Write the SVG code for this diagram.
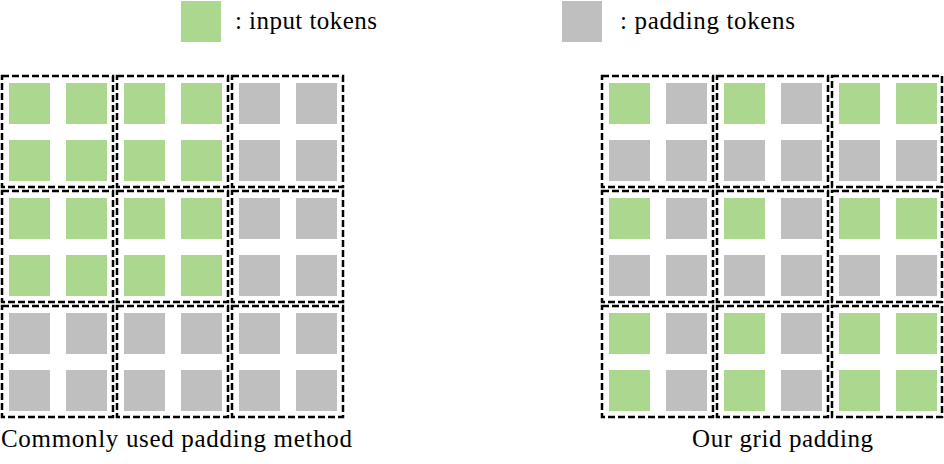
<svg xmlns="http://www.w3.org/2000/svg" width="944" height="464" viewBox="0 0 944 464">
<style>
.g{fill:#acd78e}
.p{fill:#bfbfbf}
.box{fill:none;stroke:#000;stroke-width:2.5;stroke-dasharray:7 3}
text{font-family:"Liberation Serif","Times New Roman","DejaVu Serif",serif;font-size:25px;fill:#000}
</style>
<defs>
<rect id="sq" width="41" height="41"/>
</defs>
<rect width="944" height="464" fill="#fff"/>
<g id="legend-input">
<rect class="g" x="181" y="1" width="40" height="41"/>
<text x="235" y="29" textLength="142" lengthAdjust="spacing">: input tokens</text>
</g>
<g id="legend-padding">
<rect class="p" x="562" y="1" width="40" height="41"/>
<text x="620" y="29" textLength="175" lengthAdjust="spacing">: padding tokens</text>
</g>
<g id="left-grid">
<g id="L11"><use href="#sq" class="g" x="9" y="83"/><use href="#sq" class="g" x="66" y="83"/><use href="#sq" class="g" x="9" y="140"/><use href="#sq" class="g" x="66" y="140"/><rect class="box" x="2" y="76" width="111" height="111"/></g>
<g id="L12"><use href="#sq" class="g" x="124" y="83"/><use href="#sq" class="g" x="181" y="83"/><use href="#sq" class="g" x="124" y="140"/><use href="#sq" class="g" x="181" y="140"/><rect class="box" x="117" y="76" width="111" height="111"/></g>
<g id="L13"><use href="#sq" class="p" x="239" y="83"/><use href="#sq" class="p" x="296" y="83"/><use href="#sq" class="p" x="239" y="140"/><use href="#sq" class="p" x="296" y="140"/><rect class="box" x="232" y="76" width="111" height="111"/></g>
<g id="L21"><use href="#sq" class="g" x="9" y="198"/><use href="#sq" class="g" x="66" y="198"/><use href="#sq" class="g" x="9" y="255"/><use href="#sq" class="g" x="66" y="255"/><rect class="box" x="2" y="191" width="111" height="111"/></g>
<g id="L22"><use href="#sq" class="g" x="124" y="198"/><use href="#sq" class="g" x="181" y="198"/><use href="#sq" class="g" x="124" y="255"/><use href="#sq" class="g" x="181" y="255"/><rect class="box" x="117" y="191" width="111" height="111"/></g>
<g id="L23"><use href="#sq" class="p" x="239" y="198"/><use href="#sq" class="p" x="296" y="198"/><use href="#sq" class="p" x="239" y="255"/><use href="#sq" class="p" x="296" y="255"/><rect class="box" x="232" y="191" width="111" height="111"/></g>
<g id="L31"><use href="#sq" class="p" x="9" y="313"/><use href="#sq" class="p" x="66" y="313"/><use href="#sq" class="p" x="9" y="370"/><use href="#sq" class="p" x="66" y="370"/><rect class="box" x="2" y="306" width="111" height="111"/></g>
<g id="L32"><use href="#sq" class="p" x="124" y="313"/><use href="#sq" class="p" x="181" y="313"/><use href="#sq" class="p" x="124" y="370"/><use href="#sq" class="p" x="181" y="370"/><rect class="box" x="117" y="306" width="111" height="111"/></g>
<g id="L33"><use href="#sq" class="p" x="239" y="313"/><use href="#sq" class="p" x="296" y="313"/><use href="#sq" class="p" x="239" y="370"/><use href="#sq" class="p" x="296" y="370"/><rect class="box" x="232" y="306" width="111" height="111"/></g>
</g>
<g id="right-grid">
<g id="R11"><use href="#sq" class="g" x="609" y="83"/><use href="#sq" class="p" x="666" y="83"/><use href="#sq" class="p" x="609" y="140"/><use href="#sq" class="p" x="666" y="140"/><rect class="box" x="602" y="76" width="111" height="111"/></g>
<g id="R12"><use href="#sq" class="g" x="724" y="83"/><use href="#sq" class="p" x="781" y="83"/><use href="#sq" class="p" x="724" y="140"/><use href="#sq" class="p" x="781" y="140"/><rect class="box" x="717" y="76" width="111" height="111"/></g>
<g id="R13"><use href="#sq" class="g" x="839" y="83"/><use href="#sq" class="g" x="896" y="83"/><use href="#sq" class="p" x="839" y="140"/><use href="#sq" class="p" x="896" y="140"/><rect class="box" x="832" y="76" width="110" height="111"/></g>
<g id="R21"><use href="#sq" class="g" x="609" y="198"/><use href="#sq" class="p" x="666" y="198"/><use href="#sq" class="p" x="609" y="255"/><use href="#sq" class="p" x="666" y="255"/><rect class="box" x="602" y="191" width="111" height="111"/></g>
<g id="R22"><use href="#sq" class="g" x="724" y="198"/><use href="#sq" class="p" x="781" y="198"/><use href="#sq" class="p" x="724" y="255"/><use href="#sq" class="p" x="781" y="255"/><rect class="box" x="717" y="191" width="111" height="111"/></g>
<g id="R23"><use href="#sq" class="g" x="839" y="198"/><use href="#sq" class="g" x="896" y="198"/><use href="#sq" class="p" x="839" y="255"/><use href="#sq" class="p" x="896" y="255"/><rect class="box" x="832" y="191" width="110" height="111"/></g>
<g id="R31"><use href="#sq" class="g" x="609" y="313"/><use href="#sq" class="p" x="666" y="313"/><use href="#sq" class="g" x="609" y="370"/><use href="#sq" class="p" x="666" y="370"/><rect class="box" x="602" y="306" width="111" height="111"/></g>
<g id="R32"><use href="#sq" class="g" x="724" y="313"/><use href="#sq" class="p" x="781" y="313"/><use href="#sq" class="g" x="724" y="370"/><use href="#sq" class="p" x="781" y="370"/><rect class="box" x="717" y="306" width="111" height="111"/></g>
<g id="R33"><use href="#sq" class="g" x="839" y="313"/><use href="#sq" class="g" x="896" y="313"/><use href="#sq" class="g" x="839" y="370"/><use href="#sq" class="g" x="896" y="370"/><rect class="box" x="832" y="306" width="110" height="111"/></g>
</g>
<g id="captions">
<text x="1" y="447" textLength="351" lengthAdjust="spacing">Commonly used padding method</text>
<text x="692" y="447" textLength="181" lengthAdjust="spacing">Our grid padding</text>
</g>
<g id="connectors"></g>
</svg>
